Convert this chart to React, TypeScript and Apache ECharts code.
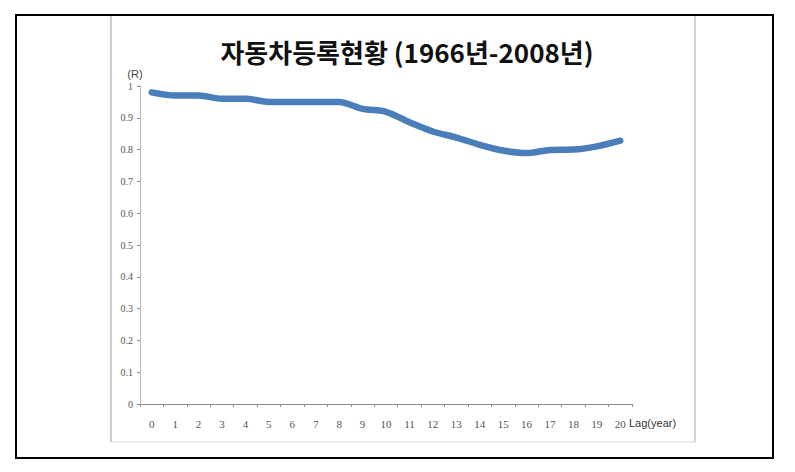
import React, { useEffect, useRef } from "react";
import * as echarts from "echarts";

const titleText = "자동차등록현황 (1966년-2008년)";
const lagYears = ["0","1","2","3","4","5","6","7","8","9","10","11","12","13","14","15","16","17","18","19","20"];
const correlation = [0.98,0.97,0.97,0.96,0.96,0.95,0.95,0.95,0.95,0.928,0.919,0.886,0.857,0.838,0.815,0.797,0.789,0.799,0.8,0.81,0.828];
const yTickLabels = ["0","0.1","0.2","0.3","0.4","0.5","0.6","0.7","0.8","0.9","1"];
const xAxisName = "Lag(year)";

export default function App() {
  const ref = useRef<HTMLDivElement>(null);
  useEffect(() => {
    if (!ref.current) return;
    const chart = echarts.init(ref.current, null, { renderer: "svg" });
    chart.setOption({
      animation: false,
      backgroundColor: "#ffffff",
      title: {
        text: titleText,
        left: 402,
        top: 33,
        textAlign: "center",
        textStyle: {
          fontFamily: "Noto Sans CJK KR",
          fontWeight: "bold",
          fontSize: 26,
          color: "#111",
        },
      },
      graphic: [
        { type: "rect", shape: { x: 16, y: 15, width: 757, height: 443 }, style: { fill: "none", stroke: "#000", lineWidth: 2 } },
        { type: "line", shape: { x1: 111, y1: 16, x2: 111, y2: 442 }, style: { stroke: "#cccccc", lineWidth: 2 } },
        { type: "line", shape: { x1: 695, y1: 16, x2: 695, y2: 442 }, style: { stroke: "#a8a8a8", lineWidth: 1 } },
        { type: "line", shape: { x1: 111, y1: 442, x2: 695, y2: 442 }, style: { stroke: "#dddddd", lineWidth: 1 } },
        {
          type: "text",
          x: 629,
          y: 423,
          style: { text: xAxisName, fontFamily: "Liberation Sans", fontSize: 11, fill: "#333", verticalAlign: "middle", align: "left" },
        },
      ],
      grid: { left: 140, top: 86, width: 492, height: 318, containLabel: false },
      xAxis: {
        type: "category",
        data: lagYears,
        boundaryGap: true,
        axisLine: { lineStyle: { color: "#8c8c8c", width: 1 } },
        axisTick: { show: true, inside: false, length: 3, alignWithLabel: false, lineStyle: { color: "#8c8c8c" } },
        axisLabel: { margin: 14, fontFamily: "Liberation Serif", fontSize: 11, color: "#555" },
        splitLine: { show: false },
      },
      yAxis: {
        type: "value",
        min: 0,
        max: 1,
        interval: 0.1,
        name: "(R)",
        nameLocation: "end",
        nameGap: 7,
        nameTextStyle: { fontFamily: "Liberation Sans", fontSize: 11, color: "#444", padding: [0, 10, 0, 0] },
        axisLine: { show: true, lineStyle: { color: "#b8b8b8", width: 1 } },
        axisTick: { show: true, inside: false, length: 3, lineStyle: { color: "#8c8c8c" } },
        axisLabel: {
          margin: 7,
          fontFamily: "Liberation Serif",
          fontSize: 10,
          color: "#555",
          formatter: (v: number) => yTickLabels[Math.round(v * 10)] ?? "",
        },
        splitLine: { show: false },
      },
      series: [
        {
          type: "line",
          data: correlation,
          smooth: 0.3,
          symbol: "none",
          lineStyle: { color: "#4a7ebb", width: 6.5, cap: "round", join: "round" },
        },
      ],
    });
    return () => chart.dispose();
  }, []);
  return <div ref={ref} style={{ position: "absolute", left: 0, top: 0, width: 795, height: 472 }} />;
}
